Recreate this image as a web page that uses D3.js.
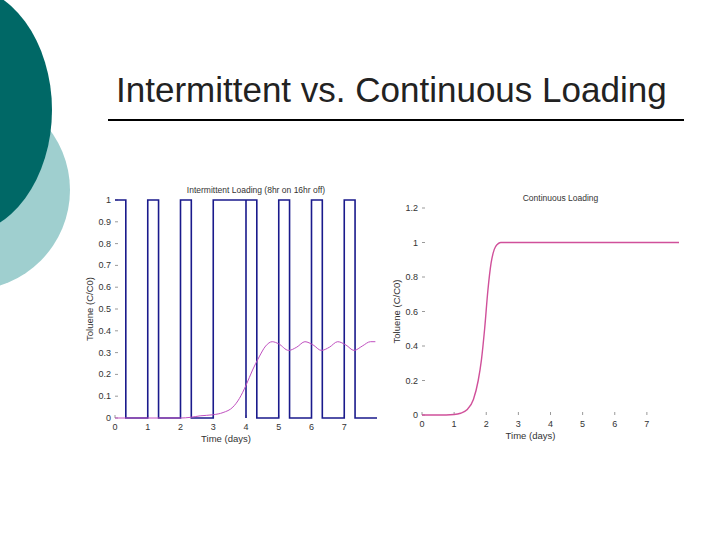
<!DOCTYPE html>
<html><head><meta charset="utf-8">
<script src="https://cdn.jsdelivr.net/npm/d3@7"></script>
<style>body{margin:0;background:#fff}svg{display:block;font-family:"Liberation Sans",Arial,sans-serif}</style>
</head><body>
<script>
// Intermittent loading: on/off square wave (time in days, value)
const pulseTimes = [0, 0.33, 1, 1.33, 2, 2.33, 3, 4, 4, 4.33, 5, 5.33, 6, 6.33, 7, 7.33, 8];
const pulseLevels = [1, 0, 1, 0, 1, 0, 1, 0, 1, 0, 1, 0, 1, 0, 1, 0, 0];
// Intermittent response (toluene C/C0)
const interT = [0, 1, 2, 2.3, 2.6, 3, 3.3, 3.6, 3.8, 4, 4.2, 4.4, 4.6, 4.8, 5, 5.3, 5.55, 5.8, 6.05, 6.3, 6.55, 6.8, 7.05, 7.3, 7.55, 7.8, 7.95];
const interV = [0, 0, 0, 0.003, 0.01, 0.015, 0.025, 0.05, 0.09, 0.15, 0.22, 0.28, 0.33, 0.35, 0.34, 0.31, 0.325, 0.35, 0.335, 0.31, 0.325, 0.35, 0.335, 0.31, 0.33, 0.35, 0.35];
// Continuous response
const contT = [0, 0.5, 1, 1.2, 1.4, 1.6, 1.75, 1.85, 1.95, 2.05, 2.15, 2.25, 2.35, 2.45, 3, 5, 8];
const contV = [0, 0, 0.003, 0.01, 0.03, 0.09, 0.2, 0.32, 0.5, 0.72, 0.88, 0.96, 0.99, 1, 1, 1, 1];
const leftYTicks = [0, 0.1, 0.2, 0.3, 0.4, 0.5, 0.6, 0.7, 0.8, 0.9, 1];
const rightYTicks = [0, 0.2, 0.4, 0.6, 0.8, 1, 1.2];
const xTicks = [0, 1, 2, 3, 4, 5, 6, 7];

const svg = d3.select("body").append("svg").attr("width", 720).attr("height", 540);

// slide decoration
svg.append("circle").attr("cx", -30).attr("cy", 190).attr("r", 100).attr("fill", "#9fcfcf");
svg.append("ellipse").attr("cx", -40).attr("cy", 110).attr("rx", 92).attr("ry", 125).attr("fill", "#006866");
svg.append("text").attr("x", 116).attr("y", 102).attr("font-size", 35).attr("fill", "#222")
  .text("Intermittent vs. Continuous Loading");
svg.append("line").attr("x1", 108).attr("x2", 684).attr("y1", 120).attr("y2", 120)
  .attr("stroke", "#000").attr("stroke-width", 2);

function panel({x0, x1, y0, y1, ymax, yTicks, title}) {
  const x = d3.scaleLinear([0, 8], [x0, x1]);
  const y = d3.scaleLinear([0, ymax], [y0, y1]);
  const g = svg.append("g").attr("font-size", 9).attr("fill", "#333");
  g.selectAll(".yt").data(yTicks).join("text").attr("x", x0 - 4).attr("y", d => y(d) + 3)
    .attr("text-anchor", "end").text(d => d);
  g.selectAll(".ytm").data(yTicks).join("line").attr("x1", x0).attr("x2", x0 + 3)
    .attr("y1", d => y(d)).attr("y2", d => y(d)).attr("stroke", "#555").attr("stroke-width", 0.6);
  g.selectAll(".xt").data(xTicks).join("text").attr("x", d => x(d)).attr("y", y0 + 12)
    .attr("text-anchor", "middle").text(d => d);
  g.selectAll(".xtm").data(xTicks).join("line").attr("x1", d => x(d)).attr("x2", d => x(d))
    .attr("y1", y0).attr("y2", y0 - 3).attr("stroke", "#555").attr("stroke-width", 0.6);
  g.append("text").attr("x", (x0 + x1) / 2 - 20).attr("y", y0 + 24).attr("text-anchor", "middle")
    .attr("font-size", 9.5).text("Time (days)");
  g.append("text").attr("transform", `translate(${x0 - 22},${(y0 + y1) / 2}) rotate(-90)`)
    .attr("text-anchor", "middle").attr("font-size", 9.5).text("Toluene (C/C0)");
  g.append("text").attr("x", (x0 + x1) / 2 + 10).attr("y", y1 - 7).attr("text-anchor", "middle")
    .attr("font-size", 8.5).text(title);
  return {x, y};
}

const L = panel({x0: 115, x1: 377, y0: 418, y1: 200, ymax: 1, yTicks: leftYTicks,
  title: "Intermittent Loading (8hr on 16hr off)"});
svg.append("path").datum(pulseTimes.map((t, i) => [t, pulseLevels[i]]))
  .attr("d", d3.line().x(d => L.x(d[0])).y(d => L.y(d[1])).curve(d3.curveStepAfter))
  .attr("fill", "none").attr("stroke", "#1a1a8c").attr("stroke-width", 1.6);
svg.append("path").datum(interT.map((t, i) => [t, interV[i]]))
  .attr("d", d3.line().x(d => L.x(d[0])).y(d => L.y(d[1])).curve(d3.curveMonotoneX))
  .attr("fill", "none").attr("stroke", "#c050c0").attr("stroke-width", 1);

const R = panel({x0: 422, x1: 679, y0: 415, y1: 208, ymax: 1.2, yTicks: rightYTicks,
  title: "Continuous Loading"});
svg.append("path").datum(contT.map((t, i) => [t, contV[i]]))
  .attr("d", d3.line().x(d => R.x(d[0])).y(d => R.y(d[1])).curve(d3.curveMonotoneX))
  .attr("fill", "none").attr("stroke", "#d0509a").attr("stroke-width", 1.4);
</script>
</body></html>
